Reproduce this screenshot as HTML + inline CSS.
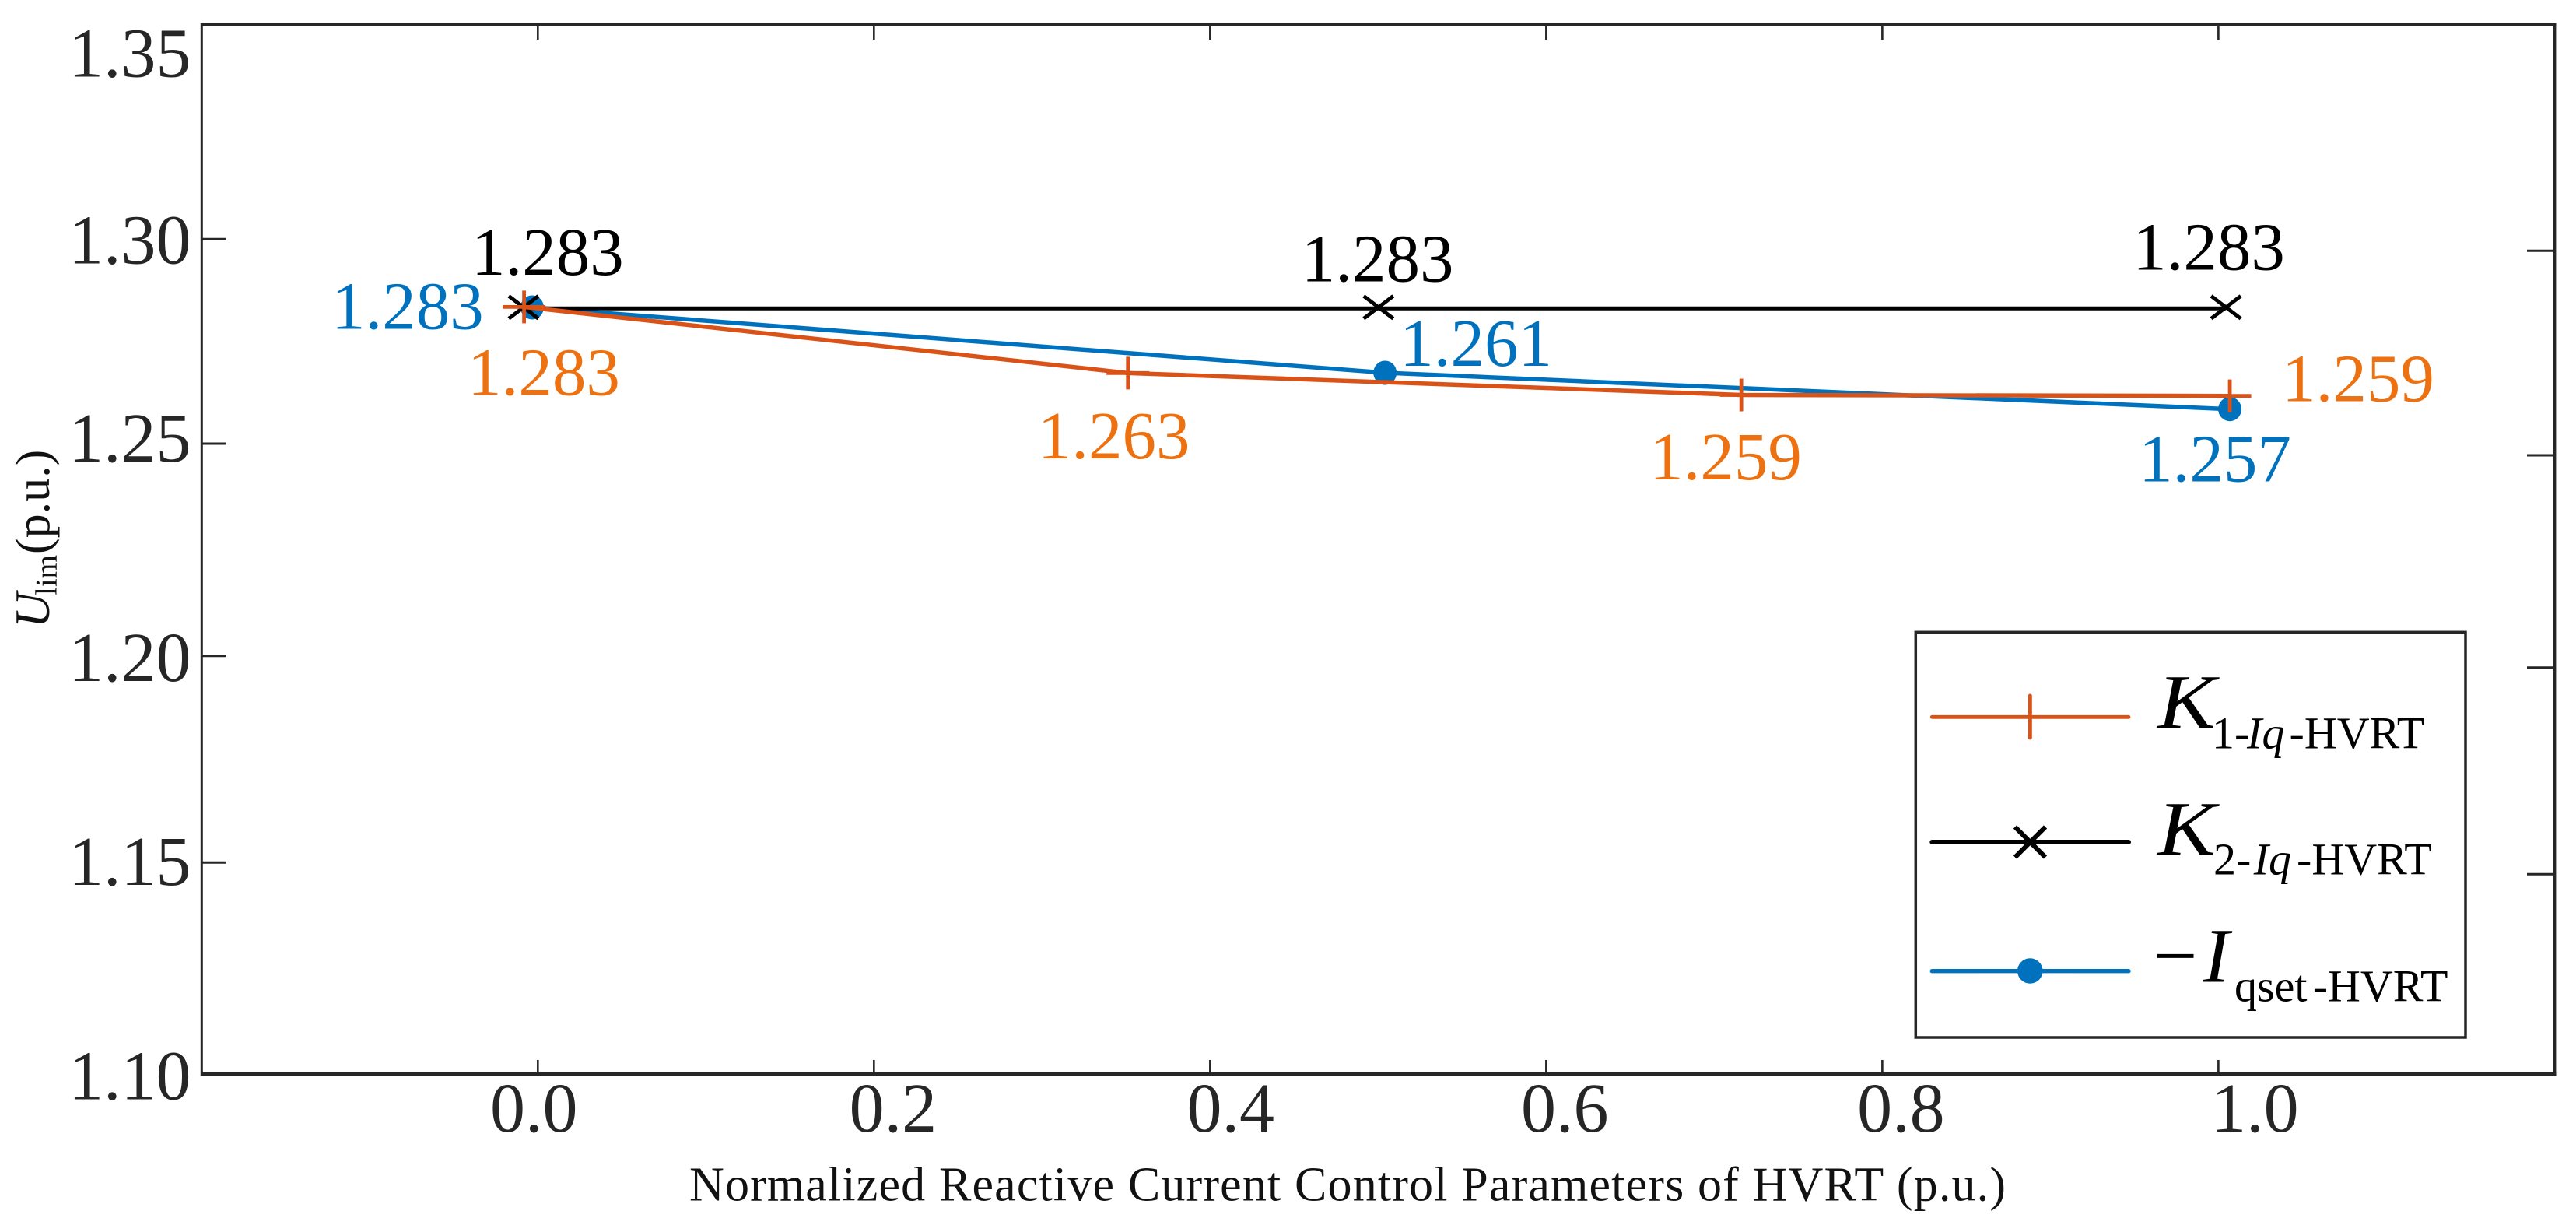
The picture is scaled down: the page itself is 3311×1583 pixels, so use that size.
<!DOCTYPE html>
<html lang="en">
<head>
<meta charset="utf-8">
<title>Ulim vs normalized reactive current control parameters of HVRT</title>
<style>
  html, body { margin: 0; padding: 0; background: #fff; }
  svg { display: block; font-family: "Liberation Serif", "Times New Roman", serif; }
</style>
</head>
<body>
<svg id="chart" xmlns="http://www.w3.org/2000/svg" width="3311" height="1583" viewBox="0 0 3311 1583">
  <rect x="0" y="0" width="3311" height="1583" fill="#ffffff"/>

  <g id="ticks"></g>
  <g id="series"></g>

  <g stroke="#262626" fill="none">
    <line x1="258" y1="32" x2="3285.5" y2="32" stroke-width="4"/>
    <line x1="259.3" y1="30" x2="259.3" y2="1382" stroke-width="3"/>
    <line x1="258" y1="1380" x2="3285.5" y2="1380" stroke-width="4"/>
    <line x1="3283.4" y1="30" x2="3283.4" y2="1382" stroke-width="4"/>
  </g>

  <text x="886" y="1542.7" font-size="62" fill="#111" textLength="1692" lengthAdjust="spacing">Normalized Reactive Current Control Parameters of HVRT (p.u.)</text>

  <g transform="translate(63,807) rotate(-90)" fill="#111">
    <text x="0" y="0" font-size="63" font-style="italic">U</text>
    <text x="42" y="9.7" font-size="39">lim</text>
    <text x="95" y="0" font-size="62">(p.u.)</text>
  </g>

  <g>
    <rect x="2462.3" y="812.3" width="706.7" height="520.7" fill="#ffffff" stroke="#262626" stroke-width="3.5"/>

    <g>
      <line x1="2483.3" y1="921.3" x2="2736" y2="921.3" stroke="#D95319" stroke-width="4.8" stroke-linecap="round"/>
      <line x1="2609.3" y1="894" x2="2609.3" y2="948" stroke="#D95319" stroke-width="5" stroke-linecap="round"/>
      <text x="2773" y="935.7" font-size="100" font-style="italic" fill="#000" textLength="75" lengthAdjust="spacingAndGlyphs">K</text>
      <text y="961.7" font-size="58" fill="#000"><tspan x="2843">1-</tspan><tspan x="2888" font-style="italic">Iq</tspan><tspan x="2942.5">-HVRT</tspan></text>
    </g>

    <g>
      <line x1="2483.3" y1="1082" x2="2736" y2="1082" stroke="#000" stroke-width="6" stroke-linecap="round"/>
      <path d="M2590 1062.5L2629 1101.5M2629 1062.5L2590 1101.5" stroke="#000" stroke-width="6" fill="none"/>
      <text x="2773" y="1098.3" font-size="100" font-style="italic" fill="#000" textLength="75" lengthAdjust="spacingAndGlyphs">K</text>
      <text y="1123.3" font-size="58" fill="#000"><tspan x="2845">2-</tspan><tspan x="2896.7" font-style="italic">Iq</tspan><tspan x="2952">-HVRT</tspan></text>
    </g>

    <g>
      <line x1="2483.3" y1="1247.7" x2="2736" y2="1247.7" stroke="#0072BD" stroke-width="5.4" stroke-linecap="round"/>
      <circle cx="2609.3" cy="1247.5" r="16.3" fill="#0072BD"/>
      <text y="1261.7" font-size="100" fill="#000"><tspan x="2768">&#8722;</tspan><tspan x="2832" font-style="italic">I</tspan></text>
      <text x="2872" y="1286.7" font-size="58" fill="#000">qset<tspan x="2972.7">-HVRT</tspan></text>
    </g>
  </g>
</svg>

<script>
// ---- chart data ----
const xTickValues = [0.0, 0.2, 0.4, 0.6, 0.8, 1.0];
const xTickLabels = ['0.0', '0.2', '0.4', '0.6', '0.8', '1.0'];
const yTickValues = [1.30, 1.25, 1.20, 1.15];
const yLabelValues = [1.35, 1.30, 1.25, 1.20, 1.15, 1.10];
const yTickLabels = ['1.35', '1.30', '1.25', '1.20', '1.15', '1.10'];

const k1X = [-0.0082, 0.3511, 0.7161, 1.0068];
const k1Y = [1.28342, 1.26726, 1.26190, 1.26167];
const k1Printed = ['1.283', '1.263', '1.259', '1.259'];

const k2X = [-0.0085, 0.5002, 1.0045];
const k2Y = [1.28306, 1.28306, 1.28306];
const k2Printed = ['1.283', '1.283', '1.283'];

const iqX = [-0.0034, 0.5041, 1.0068];
const iqY = [1.28331, 1.26732, 1.25843];
const iqPrinted = ['1.283', '1.261', '1.257'];

// ---- layout configuration (not data) ----
const X_DOMAIN = [-0.2, 1.2];
const X_RANGE = [259.3, 3283.4];
const Y_DOMAIN = [1.35, 1.30, 1.25, 1.20, 1.15, 1.10];
const Y_RANGE = [32, 307.3, 570, 842.7, 1108.3, 1380];
const RIGHT_TICK_SHIFT = 15;
const xLabelDx = [-61.3, -31.7, -29.8, -32.3, -32.3, -9.3];
const yLabelDy = [66.5, 31, 23, 32.3, 28.7, 32.7];
const k1LabelOffset = [[-72.5, 113.2], [-116, 109.7], [-118, 108.5], [67, 7]];
const k2LabelOffset = [[-67, -43.3], [-99, -35], [-120, -50]];
const iqLabelOffset = [[-258, 27.5], [19, -9], [-117, 93]];

const NS = 'http://www.w3.org/2000/svg';
const ticksLayer = document.getElementById('ticks');
const seriesLayer = document.getElementById('series');

function xScale(v) {
  const t = (v - X_DOMAIN[0]) / (X_DOMAIN[1] - X_DOMAIN[0]);
  return X_RANGE[0] + t * (X_RANGE[1] - X_RANGE[0]);
}

function yScale(v) {
  for (let i = 0; i < Y_DOMAIN.length - 1; i++) {
    if (v >= Y_DOMAIN[i + 1] || i === Y_DOMAIN.length - 2) {
      const t = (Y_DOMAIN[i] - v) / (Y_DOMAIN[i] - Y_DOMAIN[i + 1]);
      return Y_RANGE[i] + t * (Y_RANGE[i + 1] - Y_RANGE[i]);
    }
  }
  return Y_RANGE[0];
}

function svgEl(tag, props, parent) {
  const el = document.createElementNS(NS, tag);
  Object.keys(props).forEach(function (k) { el.setAttribute(k, props[k]); });
  parent.appendChild(el);
  return el;
}

// ---- x ticks ----
xTickValues.forEach(function (v, i) {
  const px = xScale(v);
  const top = svgEl('line', { x1: px, y1: 32, x2: px, y2: 51, stroke: '#262626', 'stroke-width': 2.6 }, ticksLayer);
  
  
  const bottom = svgEl('line', { x1: px, y1: 1380, x2: px, y2: 1362, stroke: '#262626', 'stroke-width': 2.6 }, ticksLayer);
  
  
  const label = svgEl('text', { x: px + xLabelDx[i], y: 1454, 'font-size': 90, fill: '#262626' }, ticksLayer);
  label.textContent = xTickLabels[i];
  
  
});

// ---- y ticks ----
yTickValues.forEach(function (v) {
  const py = yScale(v);
  const left = svgEl('line', { x1: 259.3, y1: py, x2: 291, y2: py, stroke: '#262626', 'stroke-width': 3 }, ticksLayer);
  
  
  const right = svgEl('line', { x1: 3283.4, y1: py + RIGHT_TICK_SHIFT, x2: 3248, y2: py + RIGHT_TICK_SHIFT, stroke: '#262626', 'stroke-width': 3 }, ticksLayer);
  
  
});

yLabelValues.forEach(function (v, i) {
  const label = svgEl('text', { x: 88, y: yScale(v) + yLabelDy[i], 'font-size': 90, fill: '#262626' }, ticksLayer);
  label.textContent = yTickLabels[i];
  
  
});

function pathFrom(xs, ys) {
  return xs.map(function (v, i) {
    return (i ? 'L' : 'M') + xScale(v).toFixed(2) + ' ' + yScale(ys[i]).toFixed(2);
  }).join(' ');
}

// ---- Iqset series (drawn first, lies underneath) ----
const iqLine = svgEl('path', { d: pathFrom(iqX, iqY), fill: 'none', stroke: '#0072BD', 'stroke-width': 5.5, 'stroke-linejoin': 'round' }, seriesLayer);


iqX.forEach(function (v, i) {
  const dot = svgEl('ellipse', { cx: xScale(v), cy: yScale(iqY[i]), rx: 15, ry: 15.5, fill: '#0072BD' }, seriesLayer);
  
  
  const label = svgEl('text', { x: xScale(v) + iqLabelOffset[i][0], y: yScale(iqY[i]) + iqLabelOffset[i][1], 'font-size': 87, fill: '#0072BD' }, seriesLayer);
  label.textContent = iqPrinted[i];
  
  
});

// ---- K2 series ----
const k2Line = svgEl('path', { d: pathFrom(k2X, k2Y), fill: 'none', stroke: '#000', 'stroke-width': 5 }, seriesLayer);


k2X.forEach(function (v, i) {
  const px = xScale(v), py = yScale(k2Y[i]) - 1.5;
  const mark = svgEl('path', {
    d: 'M' + (px - 19) + ' ' + (py - 14.5) + 'L' + (px + 19) + ' ' + (py + 14.5) + 'M' + (px + 19) + ' ' + (py - 14.5) + 'L' + (px - 19) + ' ' + (py + 14.5),
    fill: 'none', stroke: '#000', 'stroke-width': 4.8
  }, seriesLayer);
  
  
  const label = svgEl('text', { x: px + k2LabelOffset[i][0], y: py + 1.5 + k2LabelOffset[i][1], 'font-size': 87, fill: '#000' }, seriesLayer);
  label.textContent = k2Printed[i];
  
  
});

// ---- K1 series ----
const k1Line = svgEl('path', { d: pathFrom(k1X, k1Y), fill: 'none', stroke: '#D95319', 'stroke-width': 5.5, 'stroke-linejoin': 'round' }, seriesLayer);


k1X.forEach(function (v, i) {
  const px = xScale(v), py = yScale(k1Y[i]);
  const mark = svgEl('path', {
    d: 'M' + (px - 27.5) + ' ' + py + 'L' + (px + 27.5) + ' ' + py + 'M' + px + ' ' + (py - 21) + 'L' + px + ' ' + (py + 21),
    fill: 'none', stroke: '#D95319', 'stroke-width': 4.8
  }, seriesLayer);
  
  
  const label = svgEl('text', { x: px + k1LabelOffset[i][0], y: py + k1LabelOffset[i][1], 'font-size': 87, fill: '#ED7110' }, seriesLayer);
  label.textContent = k1Printed[i];
  
  
});
</script>
</body>
</html>
